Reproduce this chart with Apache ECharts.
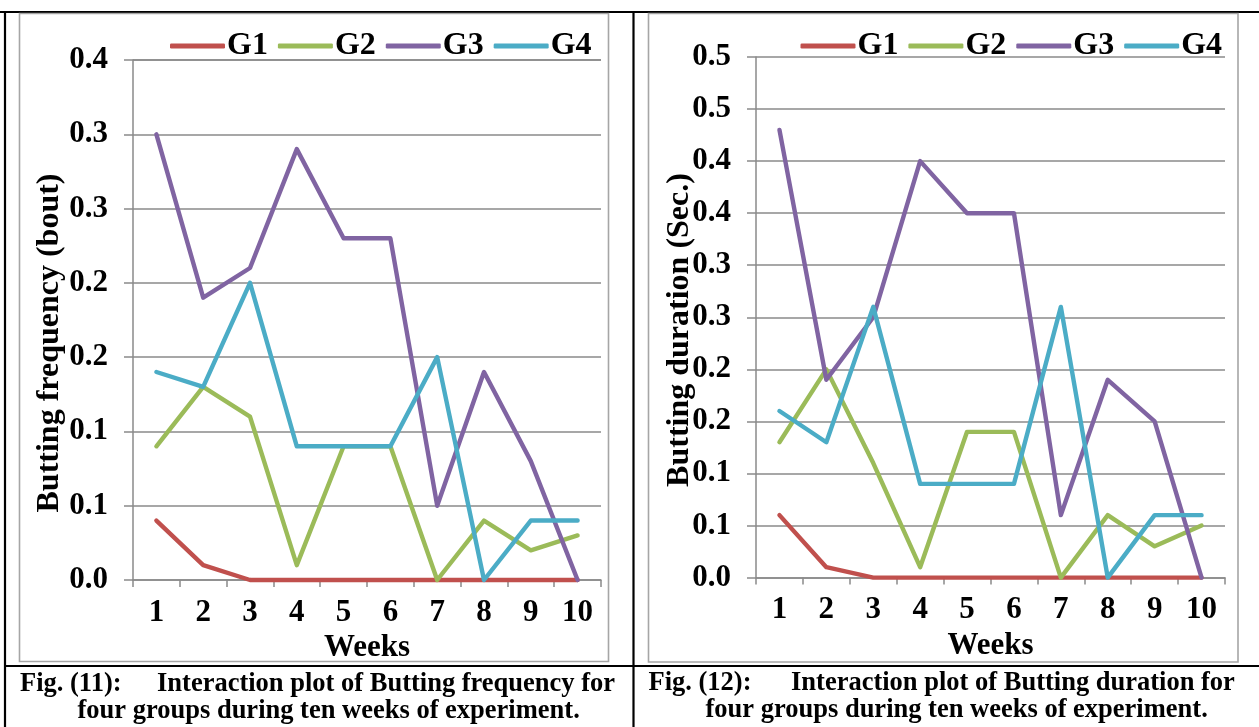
<!DOCTYPE html>
<html>
<head>
<meta charset="utf-8">
<script src="https://cdn.jsdelivr.net/npm/echarts@6/dist/echarts.min.js"></script>
<style>
  html, body { margin: 0; padding: 0; background: #ffffff; }
  #chart { width: 1259px; height: 727px; }
</style>
</head>
<body>
<div id="chart"></div>
<script>
// Weeks of the experiment and the four groups
const weeks = ['1', '2', '3', '4', '5', '6', '7', '8', '9', '10'];
const groups = ['G1', 'G2', 'G3', 'G4'];

// Butting frequency (bout) per week
const freqG1 = [0.04, 0.01, 0, 0, 0, 0, 0, 0, 0, 0];
const freqG2 = [0.09, 0.13, 0.11, 0.01, 0.09, 0.09, 0, 0.04, 0.02, 0.03];
const freqG3 = [0.30, 0.19, 0.21, 0.29, 0.23, 0.23, 0.05, 0.14, 0.08, 0];
const freqG4 = [0.14, 0.13, 0.20, 0.09, 0.09, 0.09, 0.15, 0, 0.04, 0.04];

// Butting duration (Sec.) per week
const durG1 = [0.06, 0.01, 0, 0, 0, 0, 0, 0, 0, 0];
const durG2 = [0.13, 0.20, 0.11, 0.01, 0.14, 0.14, 0, 0.06, 0.03, 0.05];
const durG3 = [0.43, 0.19, 0.25, 0.40, 0.35, 0.35, 0.06, 0.19, 0.15, 0];
const durG4 = [0.16, 0.13, 0.26, 0.09, 0.09, 0.09, 0.26, 0, 0.06, 0.06];

// Value-axis tick labels (one-decimal format, ticks every 0.05)
const freqTicks = ['0.0', '0.1', '0.1', '0.2', '0.2', '0.3', '0.3', '0.4'];
const durTicks = ['0.0', '0.1', '0.1', '0.2', '0.2', '0.3', '0.3', '0.4', '0.4', '0.5', '0.5'];
const tickStep = 0.05;

const colors = ['#C0504D', '#9BBB59', '#8064A2', '#4BACC6'];
const FONT = '"Liberation Serif", "Times New Roman", serif';
const AXIS_GRAY = '#8a8a8a';

const freqData = [freqG1, freqG2, freqG3, freqG4];
const durData = [durG1, durG2, durG3, durG4];

function makeSeries(dataSets, axisIndex) {
  return dataSets.map((vals, i) => ({
    name: groups[i],
    type: 'line',
    xAxisIndex: axisIndex,
    yAxisIndex: axisIndex,
    data: vals,
    symbol: 'none',
    showSymbol: false,
    clip: false,
    color: colors[i],
    lineStyle: { width: 4.4, color: colors[i], cap: 'round', join: 'round' }
  }));
}

function xAxisFor(gridIndex) {
  return {
    type: 'category',
    gridIndex: gridIndex,
    data: weeks,
    boundaryGap: true,
    axisLine: { show: true, lineStyle: { color: AXIS_GRAY, width: 1.5 } },
    axisTick: { show: true, length: 7, lineStyle: { color: AXIS_GRAY, width: 1.5 } },
    axisLabel: { color: '#000', fontFamily: FONT, fontWeight: 'bold', fontSize: 31, margin: 17 },
    splitLine: { show: false },
    name: 'Weeks',
    nameLocation: 'middle',
    nameGap: 43,
    nameTextStyle: { color: '#000', fontFamily: FONT, fontWeight: 'bold', fontSize: 31 }
  };
}

function yAxisFor(gridIndex, labels) {
  return {
    type: 'value',
    gridIndex: gridIndex,
    min: 0,
    max: (labels.length - 1) * tickStep,
    interval: tickStep,
    axisLine: { show: true, lineStyle: { color: AXIS_GRAY, width: 1.5 } },
    axisTick: { show: true, length: 9, lineStyle: { color: AXIS_GRAY, width: 1.5 } },
    splitLine: { show: true, lineStyle: { color: AXIS_GRAY, width: 1.5 } },
    axisLabel: {
      color: '#000', fontFamily: FONT, fontWeight: 'bold', fontSize: 31, margin: 25,
      formatter: v => labels[Math.round(v / tickStep)]
    }
  };
}

function legendFor(left) {
  return {
    data: groups,
    left: left,
    top: 25,
    orient: 'horizontal',
    icon: 'roundRect',
    itemWidth: 55,
    itemHeight: 5,
    itemGap: 10,
    selectedMode: false,
    textStyle: { color: '#000', fontFamily: FONT, fontWeight: 'bold', fontSize: 32, padding: [0, 0, 0, -3] }
  };
}

const captionFont = 'bold 26.5px ' + FONT;
function text(x, y, str, font, extra) {
  return Object.assign({
    type: 'text', x: x, y: y, silent: true,
    style: { text: str, font: font, fill: '#000', align: 'left', verticalAlign: 'middle' }
  }, extra || {});
}
function rotatedTitle(x, y, str) {
  return {
    type: 'text', x: x, y: y, rotation: Math.PI / 2, silent: true,
    style: { text: str, font: 'bold 32px ' + FONT, fill: '#000', align: 'center', verticalAlign: 'middle' }
  };
}
function line(x1, y1, x2, y2, color, width) {
  return { type: 'line', silent: true, shape: { x1, y1, x2, y2 }, style: { stroke: color, lineWidth: width } };
}

const graphic = [
  // table rules
  line(0, 12, 1259, 12, '#000', 2.2),
  line(5, 12, 5, 727, '#000', 2.2),
  line(633.5, 12, 633.5, 727, '#000', 2.2),
  line(5, 666, 1259, 666, '#000', 2.2),
  // chart-area frames
  { type: 'rect', silent: true, shape: { x: 19.5, y: 13.5, width: 589, height: 648 },
    style: { fill: null, stroke: '#a6a6a6', lineWidth: 1.6 } },
  { type: 'rect', silent: true, shape: { x: 648.5, y: 13.5, width: 589.5, height: 648.5 },
    style: { fill: null, stroke: '#a6a6a6', lineWidth: 1.6 } },
  // value-axis titles
  rotatedTitle(50, 343, 'Butting frequency (bout)'),
  rotatedTitle(680, 330, 'Butting duration (Sec.)'),
  // captions
  text(20, 684, 'Fig. (11):', captionFont),
  text(157, 684, 'Interaction plot of Butting frequency for', captionFont),
  text(77.5, 711, 'four groups during ten weeks of experiment.', captionFont),
  text(648.5, 683, 'Fig. (12):', captionFont),
  text(791, 683, 'Interaction plot of Butting duration for', captionFont),
  text(705.5, 710.5, 'four groups during ten weeks of experiment.', captionFont)
];

const chart = echarts.init(document.getElementById('chart'), null, { renderer: 'canvas' });
chart.setOption({
  animation: false,
  backgroundColor: '#ffffff',
  grid: [
    { left: 133, top: 60, width: 468, height: 520, containLabel: false },
    { left: 756, top: 57, width: 469, height: 520.6, containLabel: false }
  ],
  legend: [legendFor(165), legendFor(795.5)],
  xAxis: [xAxisFor(0), xAxisFor(1)],
  yAxis: [yAxisFor(0, freqTicks), yAxisFor(1, durTicks)],
  series: makeSeries(freqData, 0).concat(makeSeries(durData, 1)),
  graphic: graphic
});
</script>
</body>
</html>
